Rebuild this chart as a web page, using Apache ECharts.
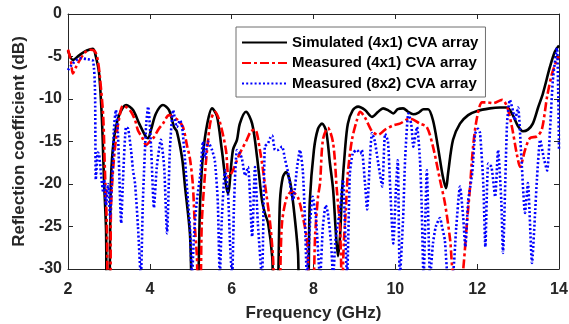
<!DOCTYPE html>
<html>
<head>
<meta charset="utf-8">
<script src="https://cdn.jsdelivr.net/npm/echarts@6/dist/echarts.min.js"></script>
<style>
html,body{margin:0;padding:0;background:#fff;}
#c{width:569px;height:324px;}
</style>
</head>
<body>
<div id="c"></div>
<script>
// ---- data ----
const xTicks = [2, 4, 6, 8, 10, 12, 14];
const yTicks = [0, -5, -10, -15, -20, -25, -30];
const seriesNames = ['Simulated (4x1) CVA array', 'Measured (4x1) CVA array', 'Measured (8x2) CVA array'];

const simFreq = [2.00,2.12,2.29,2.46,2.61,2.68,2.76,2.83,2.88,2.93,2.95,3.00,3.05,3.12,3.25,3.42,3.59,3.74,3.91,3.96,4.03,4.15,4.32,4.47,4.59,4.66,4.79,4.86,4.98,5.05,
  5.15,5.23,5.30,5.40,5.52,5.64,5.76,5.91,6.03,6.13,6.20,6.35,6.50,6.62,6.74,6.81,6.89,6.99,7.03,
  7.11,7.18,7.25,7.33,7.43,7.52,7.62,7.67,7.84,7.91,8.01,8.11,8.21,8.31,8.40,8.48,8.55,8.60,8.65,8.70,8.77,8.84,8.96,9.09,9.26,9.43,9.58,9.70,9.82,9.95,10.06,10.19,10.31,10.44,10.57,10.69,10.80,10.92,11.04,11.16,11.24,11.29,11.41,11.58,11.78,12.00,12.31,12.56,12.73,12.87,13.00,13.12,13.24,13.36,13.49,13.61,13.78,13.90,14.00];
const simDb = [-4.3,-5.4,-4.8,-4.3,-4.1,-5.0,-7.0,-12.5,-19.5,-25.4,-33,-33,-19.5,-14.8,-11.9,-10.7,-11.3,-12.9,-14.5,-14.6,-13.6,-11.7,-10.7,-11.3,-13.3,-13.8,-17,-20.3,-25.8,-33,
  -33,-22,-16.5,-13,-11.1,-12,-16,-21.1,-16,-14.8,-12.9,-11.5,-12.9,-16.8,-21.9,-23.4,-24.6,-28.5,-33,
  -33,-22,-19.2,-18.6,-19.8,-23,-28,-33,-33,-22,-16,-13.5,-12.9,-13.8,-17.5,-20.7,-26,-28.5,-26,-20.7,-16,-12.9,-11.3,-10.9,-11.3,-12.1,-11.5,-11.1,-11.3,-11.7,-11.2,-11.1,-11.5,-11.8,-11.6,-11.2,-11.2,-12.5,-15.6,-19.1,-20.5,-18.7,-14.8,-12.9,-11.9,-11.4,-11.1,-11.0,-11.0,-11.9,-13.2,-13.8,-13.6,-12.9,-11.0,-9.3,-6.2,-4.4,-3.7];

const meas4Freq = [2.00,2.07,2.12,2.20,2.29,2.42,2.54,2.66,2.73,2.78,2.86,2.90,2.95,2.98,3.03,3.05,3.10,3.17,3.25,3.34,3.44,3.54,3.64,3.71,3.81,3.91,4.00,4.10,4.22,4.32,4.47,4.57,4.69,4.81,4.91,4.98,5.05,5.10,5.15,5.18,
  5.23,5.27,5.35,5.42,5.49,5.59,5.71,5.86,5.93,6.03,6.20,6.37,6.47,6.57,6.69,6.81,6.94,7.01,7.06,7.15,7.23,7.35,7.47,7.62,7.74,7.84,7.91,7.98,8.04,8.11,8.16,8.23,8.35,8.48,8.57,8.65,8.70,8.74,8.79,8.84,8.94,9.06,9.14,9.26,9.43,9.58,9.75,9.95,10.11,10.36,10.60,10.77,10.92,11.09,11.21,11.34,11.41,11.58,11.66,11.75,11.82,11.90,12.00,12.12,12.24,12.39,12.61,12.73,12.85,12.97,13.05,13.17,13.29,13.46,13.58,13.71,13.83,13.95,14.00];
const meas4Db = [-4.2,-5.5,-7.0,-6.2,-5.4,-4.5,-4.2,-4.4,-5.5,-7.4,-12,-18,-25,-33,-33,-23,-18.4,-14.8,-12.3,-10.8,-11,-11.5,-12.5,-13.7,-14.5,-15.4,-15.0,-14.5,-13.5,-12.9,-11.9,-12.1,-12.5,-13.3,-15.5,-17,-20,-25,-28.5,-33,
  -33,-24.6,-18.7,-15,-12.5,-11.5,-12.7,-16,-19.2,-18.4,-16.4,-14.8,-13.8,-13.6,-16,-19.9,-24.6,-28.6,-33,-33,-24.6,-21.5,-20.9,-21.6,-23.9,-26.6,-33,-33,-26,-21.5,-19.9,-14.8,-13.4,-15.2,-20.7,-25.4,-33,-27,-23,-18.7,-14.8,-12.5,-11.5,-12.2,-13.8,-14.2,-13.6,-13.1,-12.9,-12.3,-12.9,-13.3,-15.6,-19.5,-22.2,-26.6,-30.5,-33,-30,-24.6,-20.7,-15.6,-12.1,-10.4,-10.4,-10.5,-10.1,-10.9,-13.3,-16.5,-18,-16,-14.6,-14.4,-13.6,-9.7,-7.0,-5.4,-5.0];

const meas8Freq = [2.00,2.12,2.29,2.46,2.61,2.66,2.68,2.73,2.76,2.81,2.86,2.88,2.93,2.98,3.03,3.07,3.10,3.12,3.17,3.22,3.30,3.34,3.42,3.47,3.54,3.59,3.64,3.71,3.78,3.83,3.91,3.96,4.03,4.10,4.17,4.27,4.35,4.42,4.49,4.57,4.66,4.74,4.79,4.86,4.93,4.98,5.03,5.08,5.15,5.23,5.30,5.35,5.42,5.52,5.59,5.66,5.71,5.76,5.84,5.91,5.96,6.01,6.06,6.13,6.20,6.25,6.33,6.40,6.50,6.57,6.64,6.74,6.81,6.89,6.94,6.99,
  7.06,7.13,7.23,7.30,7.38,7.50,7.60,7.67,7.74,7.79,7.84,7.91,7.98,8.06,8.16,8.23,8.30,8.35,8.43,8.48,8.53,8.57,8.65,8.72,8.77,8.82,8.87,8.89,8.96,9.06,9.14,9.18,9.26,9.31,9.38,9.43,9.50,9.58,9.68,9.75,9.82,9.87,9.95,10.02,10.06,10.11,10.19,10.24,10.32,10.39,10.44,10.53,10.60,10.64,10.69,10.77,10.85,10.92,10.99,11.09,11.14,11.21,11.29,11.39,11.49,11.58,11.66,11.71,11.78,11.88,11.95,12.02,12.07,12.15,12.20,12.27,12.35,12.44,12.51,12.59,12.63,12.73,12.80,12.88,12.92,13.00,13.07,13.17,13.24,13.34,13.42,13.46,13.54,13.63,13.71,13.78,13.85,13.95,13.98,14.00];
const meas8Db = [-6.6,-5.8,-5.2,-5.3,-5.5,-9,-19.5,-16.3,-16.5,-19,-21,-19.5,-22.5,-20,-24,-20,-17.5,-13.7,-11.3,-14,-24.6,-20,-13.3,-13.5,-16,-18.4,-20,-25,-31,-22,-13,-10.9,-15.6,-22.8,-18,-14.8,-18,-25.8,-16,-11.3,-13.3,-12.5,-13.3,-17.2,-21.9,-25,-31,-26,-21.9,-19,-15,-17,-15,-16,-17.3,-22,-31,-24,-18.4,-21,-27,-31,-22,-16,-16.4,-17,-19,-18,-26.2,-18,-24.6,-31,-15.6,-15.2,-14.6,-14.3,
  -16,-16,-15.6,-17,-18.7,-21.9,-18,-16,-18.5,-24,-31,-25,-21.5,-24,-31,-25,-22.5,-23.4,-27,-31,-27,-25.4,-23,-19.5,-25,-31,-22,-18.7,-16.4,-16,-16.4,-16,-20,-23,-17,-14,-15,-17.5,-20.3,-14.1,-15,-20,-27,-20,-17.2,-31,-24,-17,-11.7,-13,-15.6,-13.3,-17,-21.9,-31,-18.4,-31,-27,-25,-24,-25,-26.6,-31,-31,-25,-20.3,-24,-27.4,-22,-18.7,-14.1,-13.5,-14,-20,-27.4,-17.6,-18,-21.5,-16,-22,-28.1,-12.9,-10.1,-11.5,-12.5,-11,-16,-23.4,-19.9,-29.3,-23,-19.5,-14.8,-17,-18.4,-13.7,-7.8,-4.0,-9,-16];

function pairs(xs, ys){ return xs.map((x,i)=>[x, ys[i]]); }

const txt = '#262626';
const fontFam = '"Liberation Sans", Arial, sans-serif';

const chart = echarts.init(document.getElementById('c'), null, {renderer:'canvas'});
const baseAxisX = {
  type:'value', min:xTicks[0], max:xTicks[xTicks.length-1], interval:2,
  axisLine:{show:true, onZero:false, lineStyle:{color:txt, width:1}},
  axisTick:{show:true, inside:true, length:5, lineStyle:{color:txt, width:1}},
  splitLine:{show:false}
};
const baseAxisY = {
  type:'value', min:yTicks[yTicks.length-1], max:yTicks[0], interval:5,
  axisLine:{show:true, onZero:false, lineStyle:{color:txt, width:1}},
  axisTick:{show:true, inside:true, length:5, lineStyle:{color:txt, width:1}},
  splitLine:{show:false}
};

chart.setOption({
  animation:false,
  backgroundColor:'#fff',
  grid:{left:68, right:10, top:14, bottom:55, containLabel:false, outerBoundsMode:'none'},
  legend:{
    orient:'vertical', left:236, top:27,
    padding:[8,7,6,5], itemGap:5.5, itemWidth:45, itemHeight:14,
    backgroundColor:'#fff', borderColor:'#6e6e6e', borderWidth:1,
    itemStyle:{color:'rgba(0,0,0,0)', borderWidth:0, opacity:0},
    textStyle:{fontFamily:fontFam, fontWeight:'bold', fontSize:15, color:'#000', lineHeight:15},
    data:seriesNames
  },
  xAxis:[
    Object.assign({}, baseAxisX, {
      position:'bottom',
      name:'Frequency (GHz)', nameLocation:'middle', nameGap:36,
      nameTextStyle:{fontFamily:fontFam, fontWeight:'bold', fontSize:17, color:txt},
      axisLabel:{margin:13, fontFamily:fontFam, fontWeight:'bold', fontSize:16, color:txt}
    }),
    Object.assign({}, baseAxisX, {position:'top', axisLabel:{show:false}})
  ],
  yAxis:[
    Object.assign({}, baseAxisY, {
      position:'left',
      name:'Reflection coefficient (dB)', nameLocation:'middle', nameGap:30, nameRotate:90,
      nameTextStyle:{fontFamily:fontFam, fontWeight:'bold', fontSize:17, color:txt},
      axisLabel:{margin:6, fontFamily:fontFam, fontWeight:'bold', fontSize:16, color:txt}
    }),
    Object.assign({}, baseAxisY, {position:'right', axisLabel:{show:false}})
  ],
  series:[
    {name:seriesNames[0], type:'line', data:pairs(simFreq, simDb), symbol:'none', showSymbol:false, smooth:0.3, clip:true,
     lineStyle:{color:'#000000', width:2.6, type:'solid'}, itemStyle:{color:'#000000'}},
    {name:seriesNames[1], type:'line', data:pairs(meas4Freq, meas4Db), symbol:'none', showSymbol:false, smooth:0.3, clip:true,
     lineStyle:{color:'#ff0000', width:2.6, type:[9,3,3,3]}, itemStyle:{color:'#ff0000'}},
    {name:seriesNames[2], type:'line', data:pairs(meas8Freq, meas8Db), symbol:'none', showSymbol:false, smooth:0.2, clip:true,
     lineStyle:{color:'#0000ff', width:2.6, type:[2,2.2]}, itemStyle:{color:'#0000ff'}}
  ]
});
</script>
</body>
</html>
